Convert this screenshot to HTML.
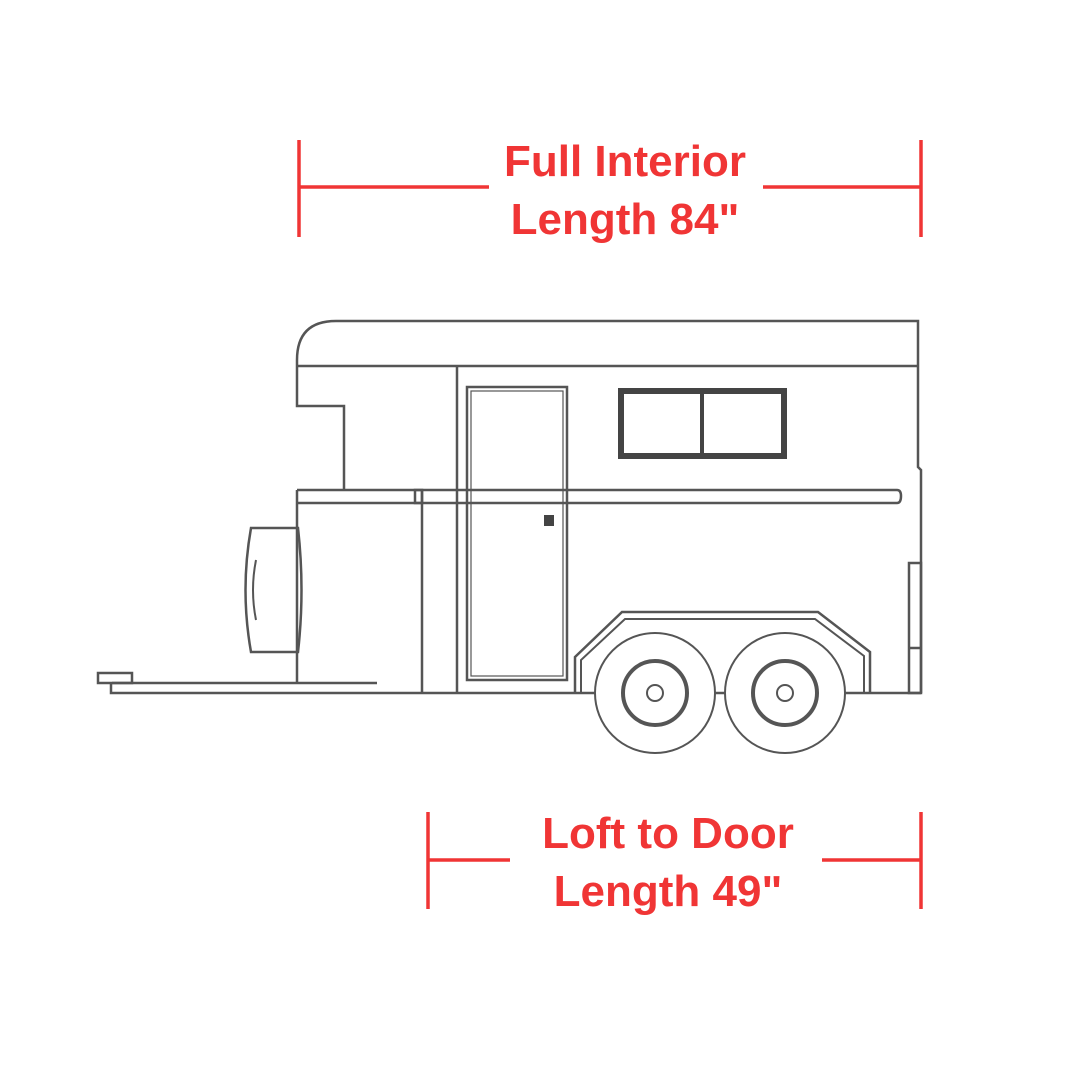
<!DOCTYPE html>
<html><head><meta charset="utf-8"><style>
html,body{margin:0;padding:0;background:#fff;}
svg{display:block;}
text{font-family:"Liberation Sans",sans-serif;font-weight:bold;fill:#f03535;}
</style></head><body>
<svg width="1080" height="1080" viewBox="0 0 1080 1080" xmlns="http://www.w3.org/2000/svg">
<rect width="1080" height="1080" fill="#fff"/>
<g stroke="#f03535" stroke-width="3.5" fill="none">
<line x1="299" y1="140" x2="299" y2="237"/><line x1="921" y1="140" x2="921" y2="237"/>
<line x1="299" y1="187" x2="489" y2="187"/><line x1="763" y1="187" x2="921" y2="187"/>
<line x1="428" y1="812" x2="428" y2="909"/><line x1="921" y1="812" x2="921" y2="909"/>
<line x1="428" y1="860" x2="510" y2="860"/><line x1="822" y1="860" x2="921" y2="860"/>
</g>
<text x="625" y="176" font-size="44" text-anchor="middle">Full Interior</text>
<text x="625" y="234" font-size="44" text-anchor="middle">Length 84"</text>
<text x="668" y="848" font-size="44" text-anchor="middle">Loft to Door</text>
<text x="668" y="906" font-size="44" text-anchor="middle">Length 49"</text>
<g stroke="#555" stroke-width="2.5" fill="none">
<path d="M297 366 L297 360 Q297 321 336 321 L918 321 L918 467 L921 470 L921 693"/>
<line x1="297" y1="366" x2="918" y2="366"/>
<path d="M297 366 L297 406 L344 406 L344 490"/>
<path d="M297 490 L297 683"/>
<path d="M297 490 L897 490 Q901 490 901 496 Q901 503 897 503 L297 503"/>
<rect x="415" y="490" width="7" height="13"/>
<line x1="422" y1="490" x2="422" y2="693"/>
<line x1="457" y1="366" x2="457" y2="693"/>
<rect x="467" y="387" width="100" height="293"/>
<rect x="471" y="391" width="92" height="285" stroke-width="1.2"/>
<path d="M251 528 L298 528 Q305 590 298 652 L251 652 Q240 590 251 528 Z"/>
<path d="M256 560 Q250 590 256 620" stroke-width="2"/>
<rect x="98" y="673" width="34" height="10"/>
<line x1="112" y1="683" x2="377" y2="683"/>
<path d="M111 683 L111 693 L921 693"/>
<path d="M575 693 L575 657 L622 612 L818 612 L870 652 L870 693"/>
<path d="M581 693 L581 660 L625 619 L815 619 L864 656 L864 693" stroke-width="2"/>
<rect x="909" y="563" width="12" height="130"/>
<line x1="909" y1="648" x2="921" y2="648"/>
</g>
<rect x="544" y="515" width="10" height="11" fill="#444"/>
<rect x="621" y="391" width="163" height="65" fill="none" stroke="#444" stroke-width="6"/>
<line x1="702" y1="391" x2="702" y2="456" stroke="#444" stroke-width="4"/>
<g fill="#fff" stroke="#555">
<circle cx="655" cy="693" r="60" stroke-width="2"/>
<circle cx="785" cy="693" r="60" stroke-width="2"/>
<circle cx="655" cy="693" r="32" stroke-width="4"/>
<circle cx="785" cy="693" r="32" stroke-width="4"/>
<circle cx="655" cy="693" r="8" stroke-width="2"/>
<circle cx="785" cy="693" r="8" stroke-width="2"/>
</g>
</svg>
</body></html>
